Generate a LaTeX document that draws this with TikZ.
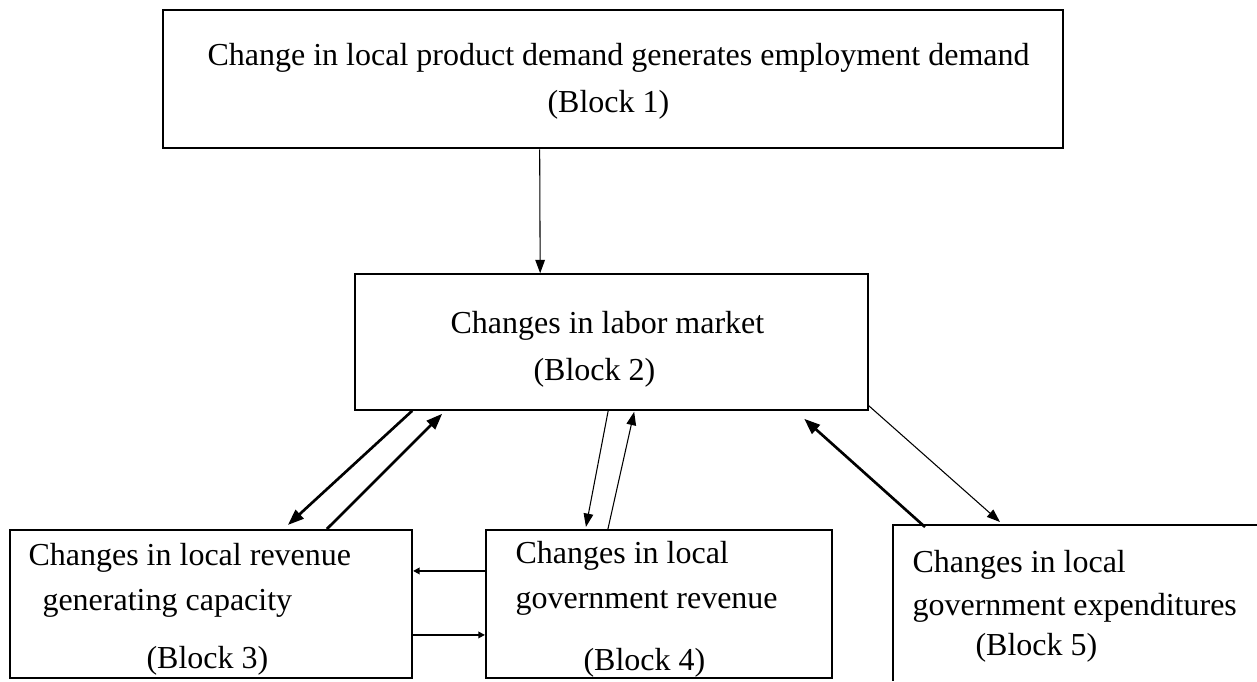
\documentclass[tikz,border=0pt]{standalone}
\usepackage{fontspec}
\setmainfont{Liberation Serif}
\usetikzlibrary{arrows.meta,calc}
\begin{document}
\begin{tikzpicture}[x=0.375pt,y=-0.375pt,
  box/.style={draw, line width=#1, inner sep=0pt},
  box/.default=0.75pt,
  lbl/.style={anchor=base west, inner sep=0pt, font=\fontsize{12}{14}\selectfont},
  thinarrow/.style={line width=0.4pt, -{Triangle[length=5pt,width=3.6pt]}},
  thickarrow/.style={line width=1pt, -{Triangle[length=6pt,width=4.4pt]}},
  smallarrow/.style={line width=0.6pt, -{Triangle[length=2.5pt,width=2.5pt]}},
]
\useasboundingbox (0,0) rectangle (1257,681);
% boxes
\node[box=1pt, minimum width=337.5pt, minimum height=51.75pt] (b1) at (613,79) {};
\node[box=0.6pt, minimum width=192.4pt, minimum height=51pt] (b2) at (611.5,342) {};
\node[box=0.8pt, minimum width=150.75pt, minimum height=55.5pt] (b3) at (211,604) {};
\node[box=0.8pt, minimum width=129.75pt, minimum height=55.5pt] (b4) at (659,604) {};
\coordinate (b5) at (893,525);
\coordinate (b5r) at (1257,525);
\coordinate (b5b) at (893,681);
\draw[line width=0.8pt] (b5r) -- (b5) -- (b5b);
% texts
\node[lbl] (t1a) at (207,66) {Change in local product demand generates employment demand};
\node[lbl] (t1b) at (547,113) {(Block 1)};
\node[lbl] (t2a) at (450,333) {Changes in labor market};
\node[lbl] (t2b) at (533,380) {(Block 2)};
\node[lbl] (t3a) at (28,565) {Changes in local revenue};
\node[lbl] (t3b) at (42,610) {generating capacity};
\node[lbl] (t3c) at (146,668) {(Block 3)};
\node[lbl] (t4a) at (515,563) {Changes in local};
\node[lbl] (t4b) at (515,608) {government revenue};
\node[lbl] (t4c) at (583,670) {(Block 4)};
\node[lbl] (t5a) at (912,572) {Changes in local};
\node[lbl] (t5b) at (912,615) {government expenditures};
\node[lbl] (t5c) at (975,655) {(Block 5)};
% connectors
\draw[thinarrow] ($(b1.south west)+(378,0)$) -- ($(b2.north west)+(186,0)$);
\draw[thickarrow] ($(b2.south west)+(58,0)$) -- ($(b3.north west)+(279,-4)$);
\draw[thickarrow] ($(b3.north west)+(318,0)$) -- ($(b2.south west)+(88,3)$);
\draw[thinarrow] ($(b2.south west)+(254,0)$) -- ($(b4.north west)+(101,-2)$);
\draw[thinarrow] ($(b4.north west)+(123,0)$) -- ($(b2.south west)+(280,1)$);
\draw[thickarrow] ($(b5)+(32,2)$) -- ($(b2.south west)+(450,8)$);
\draw[thinarrow] ($(b2.south east)+(0,-5)$) -- ($(b5)+(107,-3)$);
\draw[smallarrow] ($(b4.north west)+(0,42)$) -- ($(b3.north east)+(0,42)$);
\draw[smallarrow] ($(b3.north east)+(0,106)$) -- ($(b4.north west)+(0,106)$);
\end{tikzpicture}
\end{document}
